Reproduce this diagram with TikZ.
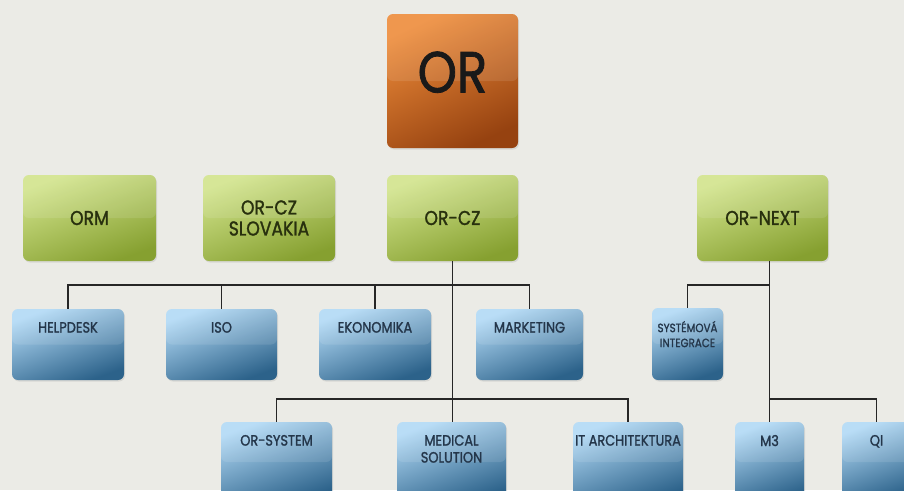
\documentclass[tikz,border=0pt]{standalone}
\usepackage{fontspec}
\setmainfont{Poppins}[FakeStretch=0.86,FakeBold=1.4]
\usetikzlibrary{shadows}

\definecolor{pozadi}{RGB}{235,235,230}
\definecolor{orhore}{RGB}{238,140,58}
\definecolor{orstred}{RGB}{230,112,26}
\definecolor{ordole}{RGB}{150,66,16}
\definecolor{zelhore}{RGB}{210,228,140}
\definecolor{zelstred}{RGB}{188,210,102}
\definecolor{zeldole}{RGB}{134,160,48}
\definecolor{modhore}{RGB}{178,218,246}
\definecolor{modstred}{RGB}{92,172,230}
\definecolor{moddole}{RGB}{44,98,138}
\definecolor{zeltext}{RGB}{40,48,14}
\definecolor{modtext}{RGB}{36,54,74}

\tikzset{
	krabice/.style={rectangle,rounded corners=6pt,inner sep=0pt,
		drop shadow={opacity=0.18,shadow xshift=1pt,shadow yshift=-1.5pt},
		path picture={\fill[white,opacity=0.1]
			(path picture bounding box.north west) rectangle (path picture bounding box.east);}},
	oranzova/.style={krabice,top color=orhore,middle color=orstred,
		bottom color=ordole,shading angle=25},
	zelena/.style={krabice,top color=zelhore,middle color=zelstred,
		bottom color=zeldole,shading angle=20,minimum width=131pt,minimum height=86pt,
		align=center,text=zeltext,font=\fontsize{20}{21}\selectfont},
	modra/.style={krabice,top color=modhore,middle color=modstred,
		bottom color=moddole,shading angle=20},
	popis/.style={anchor=north,yshift=-13pt,inner sep=0pt,align=center,
		text=modtext,font=\fontsize{15}{17}\selectfont},
	malypopis/.style={popis,font=\fontsize{12}{15}\selectfont},
	linka/.style={line width=1.4pt,black!85}
}

\begin{document}
\begin{tikzpicture}[>=latex,x=1pt,y=-1pt]

\def\sirka{904}
\def\vyska{490}

\useasboundingbox (0,0) rectangle ({\sirka},{\vyska});
\clip (0,0) rectangle ({\sirka},{\vyska});

\fill[pozadi] (0,0) rectangle ({\sirka},{\vyska});

% vrchol
\node (or) at (452.5,81)
	[oranzova,minimum width=131pt,minimum height=134pt,text depth=18pt,
	text=black!90,font=\fontsize{58}{58}\selectfont]
	{OR};

% druha rada
\node (orm) at (89.5,218) [zelena,minimum width=133pt] {ORM};
\node (slovakia) at (269,218) [zelena,minimum width=132pt] {OR-CZ\\SLOVAKIA};
\node (orcz) at (452.5,218) [zelena] {OR-CZ};
\node (ornext) at (762.5,218) [zelena] {OR-NEXT};

% oddeleni
\node (helpdesk) at (68,344.5)
	[modra,minimum width=112pt,minimum height=71pt,label={[popis]north:HELPDESK}] {};
\node (iso) at (221.5,344.5)
	[modra,minimum width=111pt,minimum height=71pt,label={[popis]north:ISO}] {};
\node (ekonomika) at (375,344.5)
	[modra,minimum width=112pt,minimum height=71pt,label={[popis]north:EKONOMIKA}] {};
\node (marketing) at (529.5,344.5)
	[modra,minimum width=107pt,minimum height=71pt,label={[popis]north:MARKETING}] {};
\node (systemova) at (687.5,344)
	[modra,minimum width=71pt,minimum height=72pt,
	label={[malypopis]north:SYSTÉMOVÁ\\INTEGRACE}] {};

\node (orsystem) at (276.5,462)
	[modra,minimum width=111pt,minimum height=80pt,label={[popis]north:OR-SYSTEM}] {};
\node (medical) at (451.5,462)
	[modra,minimum width=109pt,minimum height=80pt,
	label={[popis]north:MEDICAL\\SOLUTION}] {};
\node (itarch) at (628,462)
	[modra,minimum width=110pt,minimum height=80pt,label={[popis]north:IT ARCHITEKTURA}] {};
\node (m3) at (769.5,462)
	[modra,minimum width=69pt,minimum height=80pt,label={[popis]north:M3}] {};
\node (qi) at (876.5,462)
	[modra,minimum width=69pt,minimum height=80pt,label={[popis]north:QI}] {};

% spojnice
\coordinate (sbernice1) at (0,285);
\coordinate (sbernice2) at (0,399);

\draw[linka] (orcz.south) -- (orcz.south |- medical.north);
\draw[linka] (helpdesk.north) -- (helpdesk.north |- sbernice1)
	-- (marketing.north |- sbernice1) -- (marketing.north);
\draw[linka] (iso.north |- sbernice1) -- (iso.north);
\draw[linka] (ekonomika.north |- sbernice1) -- (ekonomika.north);
\draw[linka] (orsystem.north) -- (orsystem.north |- sbernice2)
	-- (itarch.north |- sbernice2) -- (itarch.north);

\draw[linka] (m3.north |- ornext.south) -- (m3.north);
\draw[linka] (systemova.north) -- (systemova.north |- sbernice1)
	-- (m3.north |- sbernice1);
\draw[linka] (m3.north |- sbernice2) -- (qi.north |- sbernice2) -- (qi.north);

\end{tikzpicture}
\end{document}
